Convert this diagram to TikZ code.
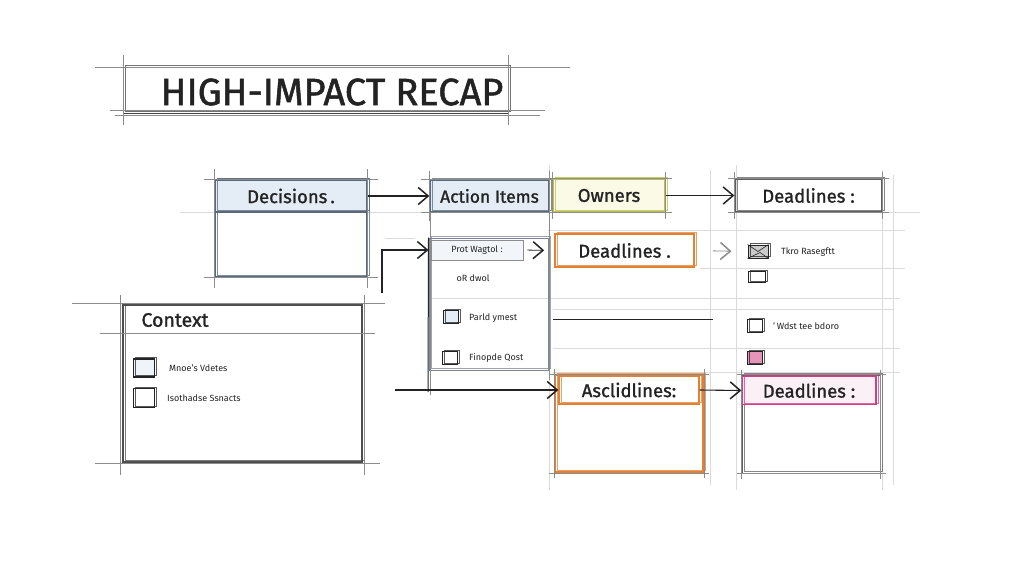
\documentclass[tikz,border=0pt]{standalone}
\usepackage{fontspec}
\setmainfont{Fira Sans}
\newfontfamily\handfont[FakeBold=1.3]{Fira Sans}
\usetikzlibrary{arrows.meta,calc}
\definecolor{ink}{RGB}{35,35,35}
\definecolor{pencil}{RGB}{140,140,140}
\definecolor{faint}{RGB}{218,218,218}
\definecolor{bluefill}{RGB}{228,237,246}
\definecolor{blueedge}{RGB}{90,105,122}
\definecolor{olive}{RGB}{188,192,78}
\definecolor{olivefill}{RGB}{250,250,230}
\definecolor{orng}{RGB}{226,128,52}
\definecolor{pnk}{RGB}{210,62,130}
\definecolor{pnkfill}{RGB}{249,230,239}
\definecolor{greyedge}{RGB}{95,95,95}
\newcommand\skext[2]{%
  \draw[ext] ($(#1.north west)+(-#2,0)$) -- ($(#1.north east)+(#2,0)$);
  \draw[ext] ($(#1.south west)+(-#2,0)$) -- ($(#1.south east)+(#2,0)$);
  \draw[ext] ($(#1.north west)+(0,-#2)$) -- ($(#1.south west)+(0,#2)$);
  \draw[ext] ($(#1.north east)+(0,-#2)$) -- ($(#1.south east)+(0,#2)$);}
\tikzset{
  sk/.style={draw=#1, line width=1.3pt, rectangle, inner sep=0pt,
    postaction={draw=#1, line width=0.6pt, opacity=0.75,
      transform canvas={shift={(1.8pt,1.6pt)}}}},
  ext/.style={draw=pencil, line width=0.45pt},
  guide/.style={draw=faint, line width=0.5pt},
  hdrfont/.style={font=\handfont\fontsize{18.5}{21}\selectfont, text=ink},
  small/.style={font=\fontsize{9}{11}\selectfont, text=ink, inner sep=1pt},
  arr/.style={draw=ink, line width=1.1pt,
    -{Straight Barb[length=10pt,width=17pt,line width=1.5pt]}},
  cbox/.style={sk=ink, line width=1.2pt, minimum width=15pt, minimum height=13pt},
}
\begin{document}
\begin{tikzpicture}[x=1pt,y=-1pt]
\useasboundingbox[fill=white] (0,0) rectangle (1024,576);

% faint guide lines
\draw[guide] (180,212) -- (430,212);
\draw[guide] (882,212) -- (920,212);
\draw[guide] (548,230) -- (905,230);
\draw[guide] (700,268) -- (905,268);
\draw[guide] (430,298) -- (900,298);
\draw[guide] (553,309) -- (893,309);
\draw[guide] (553,348) -- (900,348);
\draw[guide] (553,372) -- (900,372);
\draw[guide] (549,165) -- (549,490);
\draw[guide] (710,170) -- (710,485);
\draw[guide] (736,165) -- (736,490);
\draw[guide] (882,170) -- (882,490);
\draw[guide] (893,175) -- (893,485);
\draw[guide] (385,238) -- (415,238);

% title
\node[sk=ink!85, line width=0.9pt, minimum width=385pt, minimum height=46pt] (tbox) at (315.5,90) {};
\draw[ext] (95,67) -- (570,67);
\draw[ext] (110,110) -- (545,110);
\draw[ext] (115,115) -- (540,115);
\draw[ext] (123,55) -- (123,125);
\draw[ext] (508,55) -- (508,125);
\node[font=\handfont\fontsize{38}{44}\selectfont, text=ink] (ttl) at (332,92) {HIGH-IMPACT RECAP};

% Decisions
\node[sk=blueedge, minimum width=152pt, minimum height=97pt] (decb) at (291,228.5) {};
\node[sk=blueedge, fill=bluefill, minimum width=152pt, minimum height=32pt, hdrfont] (dech) at (291,196) {Decisions\,.};
\skext{decb}{10}

% Action Items
\node[sk=blueedge, fill=bluefill, minimum width=119pt, minimum height=32pt, hdrfont, font=\handfont\fontsize{17.5}{20}\selectfont] (aih) at (489.5,196) {Action Items};
\skext{aih}{8}
\draw[ext] (430,212) -- (430,395);
\draw[ext] (549,212) -- (549,380);

% Owners
\node[sk=olive, fill=olivefill, minimum width=112pt, minimum height=33pt, hdrfont] (owh) at (609,195.5) {Owners};
\skext{owh}{6}

% Deadlines top right
\node[sk=greyedge, minimum width=147pt, minimum height=33pt, hdrfont] (dlh) at (808.5,195.5) {Deadlines\ :};
\skext{dlh}{6}

% inner action box
\node[sk=blueedge!80, line width=1pt, minimum width=119pt, minimum height=132pt] (aib) at (488.5,304) {};
\node[draw=pencil, line width=0.6pt, fill=bluefill!50, minimum width=92pt, minimum height=20pt, small] (aibh) at (477,250) {Prot Wagtol :};
\node[small] (aid) at (473,278) {oR dwol};
\node[cbox, fill=bluefill] (cb1) at (451,317) {};
\node[small, anchor=west] (t1) at (468,318) {Parld ymest};
\node[cbox] (cb2) at (450,358) {};
\node[small, anchor=west] (t2) at (468,358) {Finopde Qost};

% orange Deadlines
\node[sk=orng, line width=1.6pt, minimum width=139pt, minimum height=33pt, hdrfont] (odl) at (624.5,250.5) {Deadlines\ .};

% right column items
\node[sk=ink, line width=1pt, fill=pencil!45, minimum width=20pt, minimum height=13pt] (env) at (758,251.5) {};
\draw[ink, line width=0.6pt] (env.north west) -- (env.center) -- (env.north east);
\draw[ink, line width=0.6pt] (env.south west) -- ($(env.center)+(2,1)$) -- (env.south east);
\node[small, anchor=west] (t3) at (780,252) {Tkro Rasegftt};
\node[cbox, minimum width=17pt, minimum height=11pt] (cb3) at (757,277) {};
\draw[ink, line width=0.8pt] (553,319) -- (713,319);
\node[cbox] (cb4) at (755,326) {};
\node[small, anchor=west] (t4) at (772,326) {'\,Wdst tee bdoro};
\node[cbox, fill=pnk!55] (cb5) at (755,358) {};

% Asclidlines
\node[sk=orng, line width=1.6pt, minimum width=148pt, minimum height=97pt] (asb) at (629,423.5) {};
\node[sk=orng, minimum width=140pt, minimum height=28pt, hdrfont] (ash) at (629,390) {Asclidlines:};
\skext{asb}{5}

% pink Deadlines
\node[sk=greyedge, line width=1pt, minimum width=138pt, minimum height=98pt] (pkb) at (811,424) {};
\node[sk=pnk, fill=pnkfill!60, minimum width=134pt, minimum height=28pt, hdrfont] (pkh) at (809,390.5) {Deadlines\ :};
\skext{pkb}{5}

% Context
\node[sk=ink!80, line width=1.2pt, minimum width=239pt, minimum height=157pt] (ctxb) at (242.5,383.5) {};
\node[minimum width=239pt, minimum height=28pt, inner sep=0pt] (ctxh) at (242.5,319) {};
\draw[ink!80, line width=1.2pt] (ctxh.south west) -- (ctxh.south east);
\node[hdrfont, font=\handfont\fontsize{19.5}{22}\selectfont, anchor=west] (ctxt) at (138,320) {Context};
\draw[ext] (72,303) -- (385,303);
\draw[ext] (95,463) -- (380,463);
\draw[ext] (100,333) -- (375,333);
\draw[ext] (120,295) -- (120,475);
\draw[ext] (364,295) -- (364,475);
\node[cbox, fill=bluefill!60, minimum width=21pt, minimum height=18pt] (cb6) at (144,368) {};
\node[small, anchor=west] (t6) at (168,368) {Mnoe's Vdetes};
\node[cbox, minimum width=21pt, minimum height=19pt] (cb7) at (144,398) {};
\node[small, anchor=west] (t7) at (166,398) {Isothadse Ssnacts};

% connectors
\coordinate (j1) at (382,293);
\coordinate (lcorner) at (428,392);
\coordinate (lstart) at (395,390);
\draw[arr] (dech.east) -- (aih.west);
\draw[arr] (owh.east) -- (dlh.west);
\draw[arr] (j1) |- (aib.west |- aibh);
\draw[arr, line width=0.8pt, shorten <=4pt, shorten >=10pt] (aibh.east) -- (odl.west);
\draw[arr, draw=pencil, line width=0.8pt, shorten <=18pt, shorten >=16pt] (odl.east) -- (env.west);
\draw[ink, line width=1pt] (aib.north west) -- (lcorner);
\draw[arr] (lstart) -- (ash.west);
\draw[arr] (ash.east) -- (pkh.west);
\end{tikzpicture}
\end{document}
